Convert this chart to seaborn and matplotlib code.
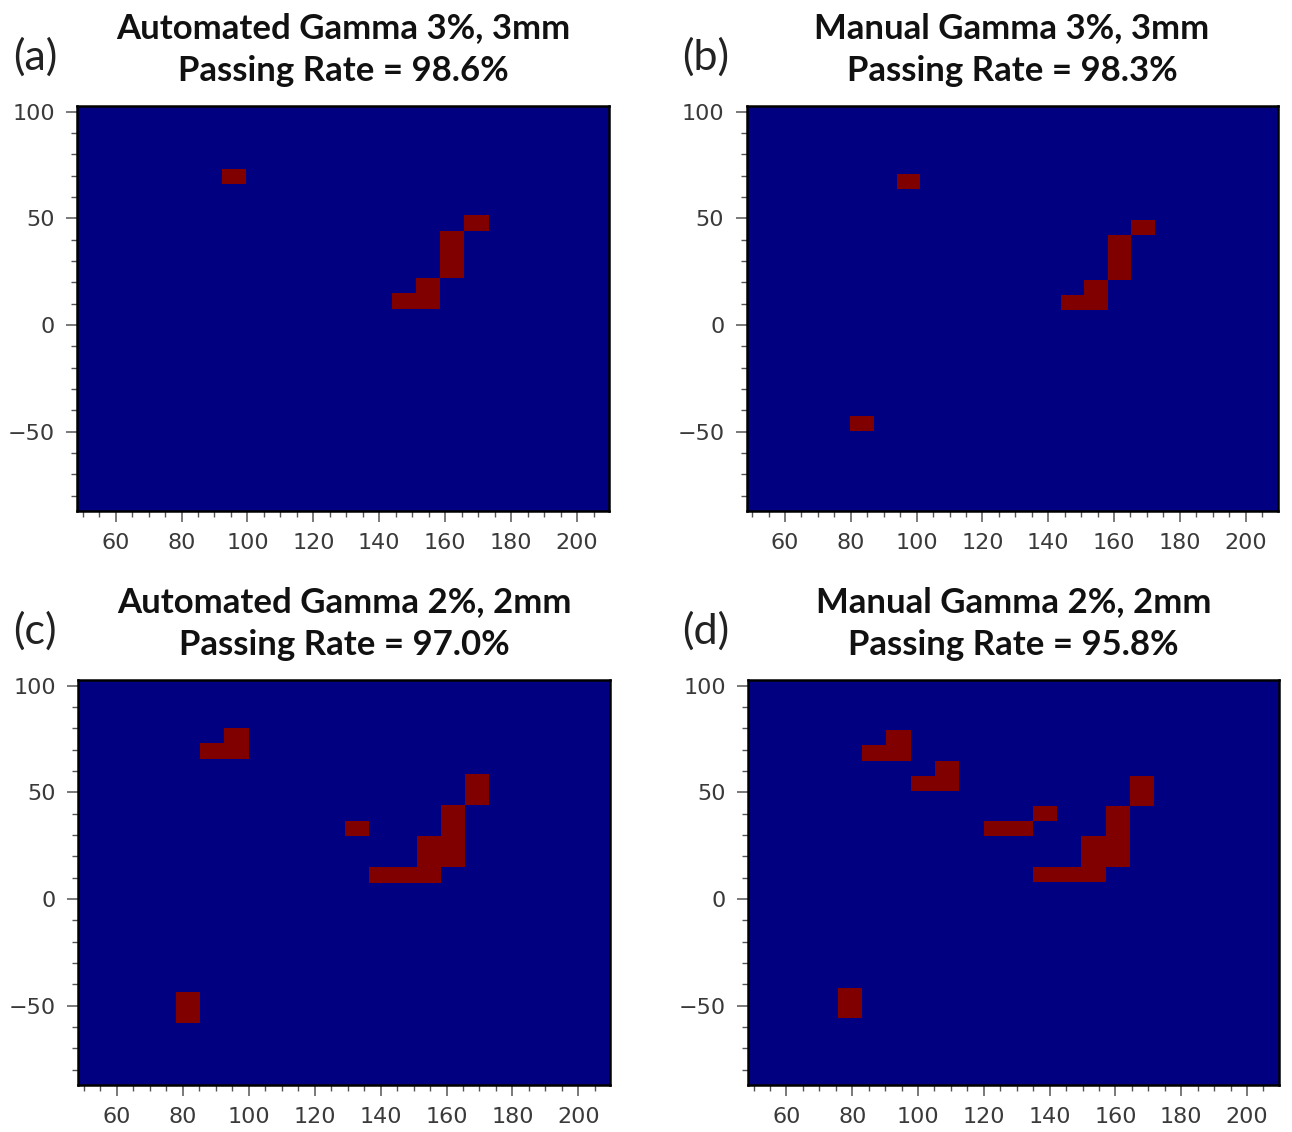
import numpy as np
import matplotlib
matplotlib.use("Agg")
import matplotlib.pyplot as plt
from matplotlib.colors import ListedColormap
from matplotlib.ticker import MultipleLocator
import seaborn as sns

# centres (mm) of the failing gamma cells
fail_x_a = [96.0, 147.4, 154.8, 154.8, 162.1, 162.1, 162.1, 169.5]
fail_y_a = [69.7, 11.3, 11.3, 18.6, 25.9, 33.2, 40.5, 47.8]

fail_x_b = [97.6, 147.5, 154.6, 154.6, 161.7, 161.7, 161.7, 168.8, 83.4]
fail_y_b = [67.1, 10.5, 10.5, 17.6, 24.7, 31.7, 38.8, 45.9, -46.0]

fail_x_c = [96.3, 89.0, 96.3, 132.8, 140.1, 147.4, 154.7, 154.7, 162.0,
            154.7, 162.0, 162.0, 162.0, 169.3, 169.3, 81.7, 81.7]
fail_y_c = [76.6, 69.3, 69.3, 32.9, 11.1, 11.1, 11.1, 18.4, 18.4,
            25.7, 25.7, 32.9, 40.2, 47.5, 54.8, -54.3, -47.0]

fail_x_d = [94.1, 86.7, 94.1, 108.9, 101.5, 108.9, 138.5, 123.7, 131.1,
            138.5, 145.9, 153.3, 153.3, 160.7, 153.3, 160.7, 160.7, 160.7,
            168.1, 168.1, 79.3, 79.3]
fail_y_d = [75.6, 68.5, 68.5, 61.4, 54.3, 54.3, 40.1, 33.0, 33.0,
            11.7, 11.7, 11.7, 18.8, 18.8, 25.9, 25.9, 33.0, 40.1,
            47.2, 54.3, -52.3, -45.2]

# grid spacing (mm) of each map
cell_a = (7.35, 7.30)
cell_b = (7.12, 7.07)
cell_c = (7.30, 7.27)
cell_d = (7.40, 7.11)

titles = ["Automated Gamma 3%, 3mm\nPassing Rate = 98.6%",
          "Manual Gamma 3%, 3mm\nPassing Rate = 98.3%",
          "Automated Gamma 2%, 2mm\nPassing Rate = 97.0%",
          "Manual Gamma 2%, 2mm\nPassing Rate = 95.8%"]
letters = ["(a)", "(b)", "(c)", "(d)"]

x_range = (48.3, 209.7)
y_range = (-87.3, 102.6)

sns.set_style("ticks")
plt.rcParams['font.family'] = ['Lato', 'DejaVu Sans']

cmap = ListedColormap(["#000080", "#800000"])


def edges(start, step, lo, hi):
    n_before = int(np.ceil((start - lo) / step)) + 1
    first = start - n_before * step
    n = int(np.ceil((hi - first) / step)) + 2
    return first + step * np.arange(n)


def gamma_map(ax, fx, fy, cell, title):
    dx, dy = cell
    xe = edges(fx[0] - dx / 2, dx, *x_range)
    ye = edges(fy[0] - dy / 2, dy, *y_range)
    mask = np.zeros((len(ye) - 1, len(xe) - 1))
    ix = np.searchsorted(xe, fx) - 1
    iy = np.searchsorted(ye, fy) - 1
    mask[iy, ix] = 1
    ax.pcolormesh(xe, ye, mask, cmap=cmap, vmin=0, vmax=1, shading='flat')
    ax.set_xlim(*x_range)
    ax.set_ylim(*y_range)

    ax.xaxis.set_major_locator(MultipleLocator(20))
    ax.xaxis.set_minor_locator(MultipleLocator(5))
    ax.yaxis.set_major_locator(MultipleLocator(50))
    ax.yaxis.set_minor_locator(MultipleLocator(10))
    ax.tick_params(which='major', length=8, width=1.1, color='#555555',
                   labelsize=16, labelcolor='#3a3a3a', pad=8)
    ax.tick_params(which='minor', length=4.5, width=1.0, color='#555555')
    ax.tick_params(axis='y', pad=8)
    for sp in ax.spines.values():
        sp.set_linewidth(1.8)
        sp.set_color('black')
    for lab in ax.get_xticklabels() + ax.get_yticklabels():
        lab.set_family('DejaVu Sans')
    ax.set_title(title, fontsize=25, fontweight='bold', pad=18,
                 linespacing=1.42, color='#111111')


fig = plt.figure(figsize=(12.92, 11.32), dpi=100)
boxes = [[0.0596, 0.5484, 0.4118, 0.3578],
         [0.5778, 0.5484, 0.4110, 0.3578],
         [0.0606, 0.0413, 0.4118, 0.3578],
         [0.5789, 0.0413, 0.4110, 0.3578]]
data = [(fail_x_a, fail_y_a, cell_a), (fail_x_b, fail_y_b, cell_b),
        (fail_x_c, fail_y_c, cell_c), (fail_x_d, fail_y_d, cell_d)]
letter_pos = [(0.027, 0.950), (0.546, 0.950), (0.027, 0.443), (0.546, 0.443)]

for box, (fx, fy, cell), title, letter, lp in zip(boxes, data, titles, letters, letter_pos):
    ax = fig.add_axes(box)
    gamma_map(ax, fx, fy, cell, title)
    fig.text(lp[0], lp[1], letter, fontsize=31, ha='center', va='center',
             color='#222222')

fig.savefig("out.png", dpi=100)
